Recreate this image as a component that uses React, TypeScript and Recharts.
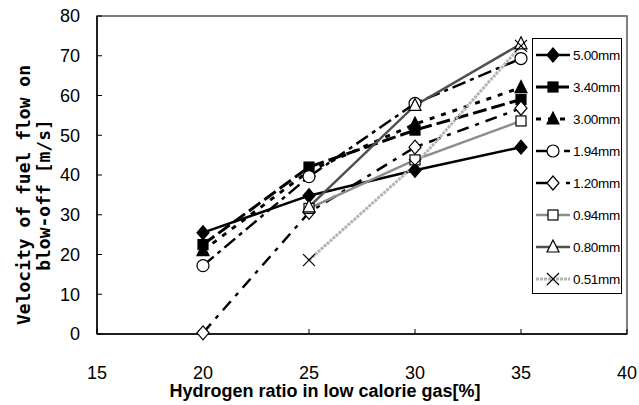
import { LineChart, Line, XAxis, YAxis, Legend, Label, ReferenceArea } from 'recharts';

// hydrogen ratio [%]
const ratios = [20, 25, 30, 35];
const xTicks = [15, 20, 25, 30, 35, 40];
const yTicks = [0, 10, 20, 30, 40, 50, 60, 70, 80];

// blow-off velocity [m/s] per nozzle diameter
const d500 = [25.5, 34.8, 41.2, 47];
const d340 = [22.5, 42, 51.3, 59];
const d300 = [21, 41, 52.8, 62];
const d194 = [17.2, 39.6, 58, 69.3];
const d120 = [0.3, 30.6, 47, 56.8];
const d094 = [null, 31.6, 43.8, 53.6];
const d080 = [null, 32, 57.5, 73];
const d051 = [null, 18.6, 42.5, 72.5];

const data = ratios.map((r, i) => ({
  r,
  d500: d500[i],
  d340: d340[i],
  d300: d300[i],
  d194: d194[i],
  d120: d120[i],
  d094: d094[i],
  d080: d080[i],
  d051: d051[i],
}));

type Shape = 'diamond' | 'square' | 'triangle' | 'circle' | 'x';

interface Series {
  key: string;
  name: string;
  stroke: string;
  width: number;
  dash?: string;
  shape: Shape;
  filled: boolean;
}

const series: Series[] = [
  { key: 'd500', name: '5.00mm', stroke: '#000', width: 2.5, shape: 'diamond', filled: true },
  { key: 'd340', name: '3.40mm', stroke: '#000', width: 3, dash: '14 5', shape: 'square', filled: true },
  { key: 'd300', name: '3.00mm', stroke: '#000', width: 3, dash: '5 7', shape: 'triangle', filled: true },
  { key: 'd194', name: '1.94mm', stroke: '#000', width: 2.5, dash: '14 5 4 5', shape: 'circle', filled: false },
  { key: 'd120', name: '1.20mm', stroke: '#000', width: 2.5, dash: '12 7 4 7', shape: 'diamond', filled: false },
  { key: 'd094', name: '0.94mm', stroke: '#8c8c8c', width: 2.5, shape: 'square', filled: false },
  { key: 'd080', name: '0.80mm', stroke: '#505050', width: 2.5, shape: 'triangle', filled: false },
  { key: 'd051', name: '0.51mm', stroke: '#b4b4b4', width: 3, dash: '3 1', shape: 'x', filled: false },
];

function Marker({ cx, cy, shape, filled }: { cx: number; cy: number; shape: Shape; filled: boolean }) {
  const fill = filled ? '#000' : '#fff';
  const sw = 1.2;
  if (shape === 'diamond')
    return <path d={`M${cx},${cy - 7}L${cx + 6},${cy}L${cx},${cy + 7}L${cx - 6},${cy}Z`} fill={fill} stroke="#000" strokeWidth={sw} />;
  if (shape === 'square')
    return <rect x={cx - 5} y={cy - 5} width={10} height={10} fill={fill} stroke="#000" strokeWidth={sw} />;
  if (shape === 'triangle')
    return <path d={`M${cx},${cy - 7}L${cx + 6},${cy + 5}L${cx - 6},${cy + 5}Z`} fill={fill} stroke="#000" strokeWidth={sw} />;
  if (shape === 'circle') return <circle cx={cx} cy={cy} r={6} fill={fill} stroke="#000" strokeWidth={sw} />;
  return (
    <path d={`M${cx - 6},${cy - 6}L${cx + 6},${cy + 6}M${cx + 6},${cy - 6}L${cx - 6},${cy + 6}`} stroke="#000" strokeWidth={sw} fill="none" />
  );
}

const makeDot = (s: Series) => (props: any) => {
  const { cx, cy, value, index } = props;
  if (value == null || cx == null || cy == null) return <g key={`${s.key}-${index}`} />;
  return (
    <g key={`${s.key}-${index}`}>
      <Marker cx={cx} cy={cy} shape={s.shape} filled={s.filled} />
    </g>
  );
};

const tickStyle = { fontSize: 18, fill: '#000', fontFamily: 'Liberation Sans, Arial, sans-serif' };

function LegendBox() {
  return (
    <div
      style={{
        width: 90,
        height: 256,
        border: '1px solid #000',
        background: '#fff',
        boxSizing: 'border-box',
        fontFamily: 'Liberation Sans, Arial, sans-serif',
        fontSize: 13.5,
        letterSpacing: -0.3,
      }}
    >
      {series.map((s) => (
        <div key={s.key} style={{ display: 'flex', alignItems: 'center', height: 32 }}>
          <svg width={40} height={20}>
            <line x1={3} y1={10} x2={37} y2={10} stroke={s.stroke} strokeWidth={s.width} strokeDasharray={s.dash} />
            <Marker cx={20} cy={10} shape={s.shape} filled={s.filled} />
          </svg>
          <span>{s.name}</span>
        </div>
      ))}
    </div>
  );
}

const YTitle = () => (
  <g fontFamily="DejaVu Sans Mono, monospace" fontWeight="bold" fontSize={18} fill="#000">
    <text transform="translate(30,195) rotate(-90)" textAnchor="middle">
      Velocity of fuel flow on
    </text>
    <text transform="translate(50,195) rotate(-90)" textAnchor="middle">
      blow-off [m/s]
    </text>
  </g>
);

const XTitle = () => (
  <text x={325} y={397} textAnchor="middle" fontFamily="Liberation Sans, Arial, sans-serif" fontWeight="bold" fontSize={18} fill="#000">
    Hydrogen ratio in low calorie gas[%]
  </text>
);

export default function App() {
  return (
    <div style={{ position: 'absolute', left: 0, top: 0, background: '#fff' }}>
      <LineChart width={639} height={405} data={data} margin={{ top: 16, right: 12, left: 0, bottom: 0 }}>
        <XAxis
          dataKey="r"
          type="number"
          domain={[15, 40]}
          ticks={xTicks}
          height={71}
          tick={tickStyle}
          tickSize={-5}
          tickMargin={37}
          axisLine={{ stroke: '#000', strokeWidth: 1.5 }}
          tickLine={{ stroke: '#000' }}
        >
          <Label content={<XTitle />} />
        </XAxis>
        <YAxis
          type="number"
          domain={[0, 80]}
          ticks={yTicks}
          width={97}
          tick={tickStyle}
          tickSize={-5}
          tickMargin={22}
          axisLine={{ stroke: '#000', strokeWidth: 1.5 }}
          tickLine={{ stroke: '#000' }}
        >
          <Label content={<YTitle />} />
        </YAxis>
        <ReferenceArea x1={15} x2={40} y1={0} y2={80} fill="none" stroke="#555" strokeWidth={1.5} />
        <Legend
          layout="vertical"
          align="center"
          verticalAlign="middle"
          content={<LegendBox />}
          wrapperStyle={{ position: 'absolute', left: 532, top: 38, width: 90, height: 256 }}
        />
        {series.map((s) => (
          <Line
            key={s.key}
            dataKey={s.key}
            name={s.name}
            type="linear"
            stroke={s.stroke}
            strokeWidth={s.width}
            strokeDasharray={s.dash}
            dot={makeDot(s)}
            activeDot={false}
            isAnimationActive={false}
          />
        ))}
      </LineChart>
    </div>
  );
}
